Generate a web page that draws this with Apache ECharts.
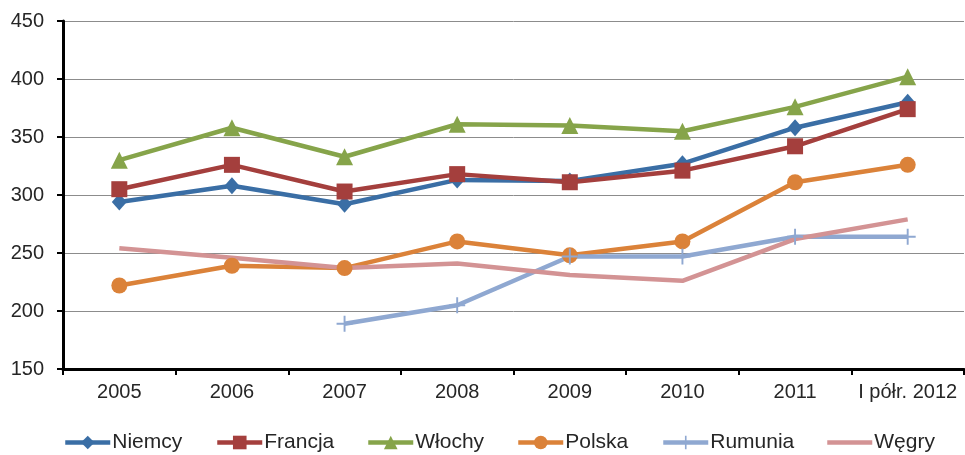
<!DOCTYPE html>
<html>
<head>
<meta charset="utf-8">
<script src="https://cdn.jsdelivr.net/npm/echarts@6/dist/echarts.min.js"></script>
<style>
  html, body { margin: 0; padding: 0; background: #fff; }
  #chart { width: 965px; height: 455px; }
</style>
</head>
<body>
<div id="chart"></div>
<script>
// kategorie i dane
const categories = ['2005', '2006', '2007', '2008', '2009', '2010', '2011', 'I półr. 2012']
const seriesNames = ['Niemcy', 'Francja', 'Włochy', 'Polska', 'Rumunia', 'Węgry']
const niemcy = [294, 308, 292, 313, 312, 327, 358, 380]
const francja = [305, 326, 303, 318, 311, 321, 342, 374]
const wlochy = [330, 358, 333, 361, 360, 355, 376, 402]
const polska = [222, 239, 237, 260, 248, 260, 311, 326]
const rumunia = [null, null, 189, 205, 247, 247, 264, 264]
const wegry = [254, 246, 237, 241, 231, 226, 262, 279]
const yTicks = [150, 200, 250, 300, 350, 400, 450]

const colors = ['#3a6ea5', '#a43f3d', '#86a44a', '#db8239', '#8fa8d1', '#d39394']
const plusPath = 'path://M-1.2,-10 L1.2,-10 L1.2,-1.2 L10,-1.2 L10,1.2 L1.2,1.2 L1.2,10 L-1.2,10 L-1.2,1.2 L-10,1.2 L-10,-1.2 L-1.2,-1.2 Z'
const symbols = ['diamond', 'rect', 'triangle', 'circle', plusPath, 'none']
const symbolSizes = [[15, 17], 16, 17, 16, 16, 0]
const allData = [niemcy, francja, wlochy, polska, rumunia, wegry]
const legendLeft = [63, 215, 366, 516, 661, 825]

const chart = echarts.init(document.getElementById('chart'))
const font = '"Liberation Sans", Arial, sans-serif'

const option = {
  animation: false,
  color: colors,
  grid: { left: 63, right: 1, top: 21, bottom: 86, containLabel: false },
  legend: seriesNames.map((name, i) => ({
    data: [{ name: name, itemStyle: symbols[i] === 'none' ? { opacity: 0 } : undefined }],
    left: legendLeft[i],
    top: 432,
    padding: 0,
    itemWidth: 45,
    itemHeight: 17,
    lineStyle: { width: 4.5 },
    textStyle: { fontFamily: font, fontSize: 21, color: '#262626', padding: [0, 0, 0, -3] }
  })),
  xAxis: {
    type: 'category',
    data: categories,
    boundaryGap: true,
    axisLine: { lineStyle: { color: '#000', width: 3 } },
    axisTick: { show: true, interval: 0, length: 6, lineStyle: { color: '#000', width: 2 } },
    axisLabel: { interval: 0, fontFamily: font, fontSize: 20, color: '#262626', margin: 13 },
    splitLine: { show: false }
  },
  yAxis: {
    type: 'value',
    min: yTicks[0],
    max: yTicks[yTicks.length - 1],
    interval: 50,
    axisLine: { show: true, lineStyle: { color: '#000', width: 3 } },
    axisTick: { show: true, length: 6, lineStyle: { color: '#000', width: 2 } },
    axisLabel: { fontFamily: font, fontSize: 20, color: '#262626', margin: 19 },
    splitLine: { lineStyle: { color: '#8c8c8c', width: 1 } }
  },
  series: seriesNames.map((name, i) => ({
    name: name,
    type: 'line',
    data: allData[i],
    symbol: symbols[i],
    symbolSize: symbolSizes[i],
    showSymbol: symbols[i] !== 'none',
    connectNulls: false,
    lineStyle: { width: 4.5, color: colors[i] },
    itemStyle: { color: colors[i] },
    emphasis: { disabled: true }
  }))
}
chart.setOption(option)
</script>
</body>
</html>
